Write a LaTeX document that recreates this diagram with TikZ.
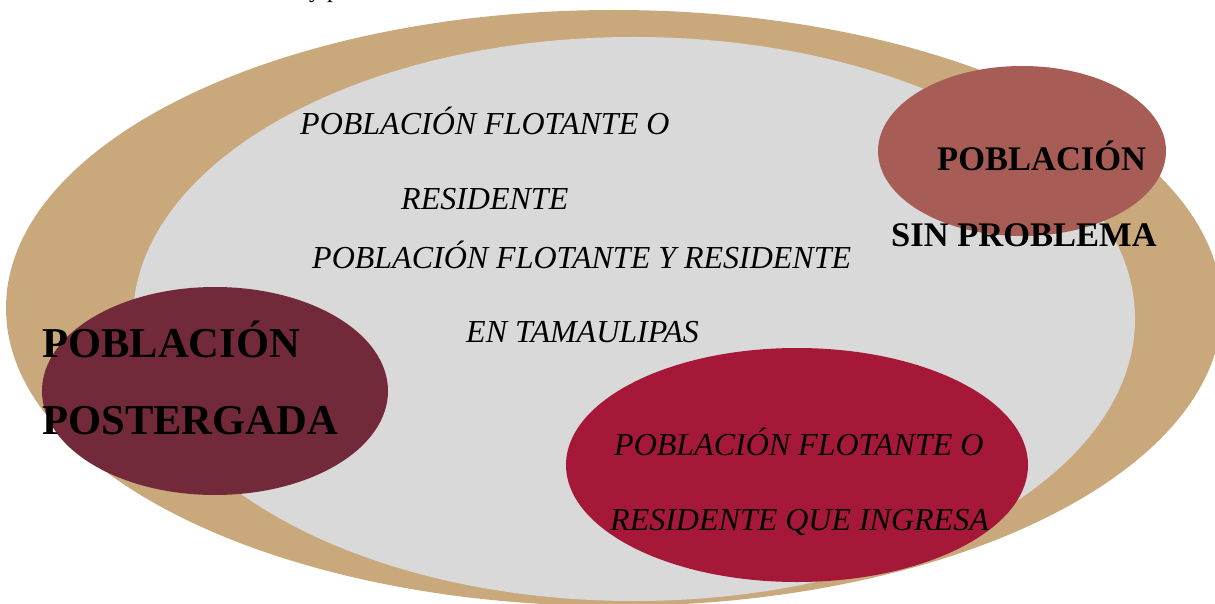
\documentclass[tikz,border=0pt]{standalone}
\usepackage{fontspec}
\setmainfont{Liberation Serif}
\definecolor{tan}{HTML}{C9A97C}
\definecolor{lightgray}{HTML}{D9D9D9}
\definecolor{rosebrown}{HTML}{A85C56}
\definecolor{wine}{HTML}{722A3A}
\definecolor{crimson}{HTML}{A61838}
\tikzset{
  itxt/.style={anchor=base west, inner sep=0pt, font=\fontsize{32}{34}\selectfont\itshape},
  btxt/.style={anchor=base west, inner sep=0pt, font=\fontsize{34.5}{36}\selectfont\bfseries},
  bigtxt/.style={anchor=base west, inner sep=0pt, font=\fontsize{42.6}{44}\selectfont\bfseries},
  rtxt/.style={anchor=base west, inner sep=0pt, font=\fontsize{32}{34}\selectfont\itshape},
}
\begin{document}
\begin{tikzpicture}[x=1pt,y=-1pt]
\useasboundingbox (0,0) rectangle (1215,604);
\fill[white] (0,0) rectangle (1215,604);
% ellipses
\fill[tan] (614,308) ellipse [x radius=608, y radius=298];
\fill[lightgray] (634,319) ellipse [x radius=501, y radius=282];
\fill[wine] (215,391) ellipse [x radius=173, y radius=104];
\fill[rosebrown] (1022,151) ellipse [x radius=144, y radius=85];
\fill[crimson] (797,465) ellipse [x radius=231, y radius=117];
% cropped top text
\node[anchor=base west, inner sep=0pt, font=\fontsize{24}{26}\selectfont] (top) at (309,-2) {y p};
% centre texts
\node[itxt] (c1) at (300,135) {POBLACIÓN FLOTANTE O};
\node[itxt] (c2) at (401,210) {RESIDENTE};
\node[itxt] (c3) at (312,268) {POBLACIÓN FLOTANTE Y RESIDENTE};
\node[itxt] (c4) at (466,342) {EN TAMAULIPAS};
% top right
\node[btxt] (r1) at (937,171) {POBLACIÓN};
\node[btxt] (r2) at (891,246) {SIN PROBLEMA};
% left
\node[bigtxt] (l1) at (42,357) {POBLACIÓN};
\node[bigtxt] (l2) at (42,434) {POSTERGADA};
% red
\node[rtxt] (e1) at (614,455) {POBLACIÓN FLOTANTE O};
\node[rtxt] (e2) at (610,530) {RESIDENTE QUE INGRESA};
\end{tikzpicture}
\end{document}
